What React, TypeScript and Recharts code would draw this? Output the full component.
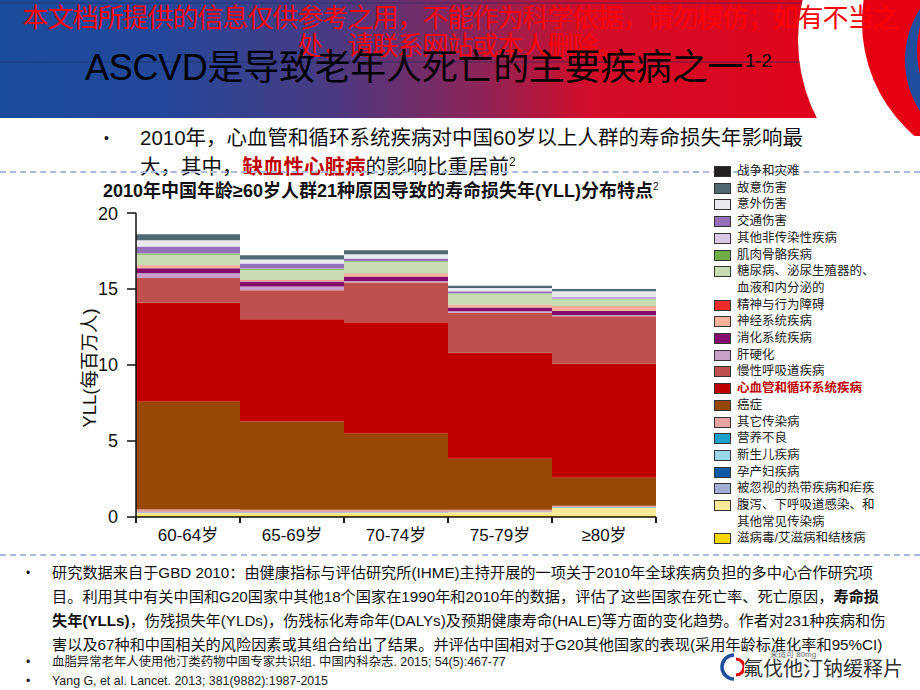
import React from 'react'
import { BarChart, Bar, XAxis, YAxis } from 'recharts'

const ageGroups = ['60-64岁', '65-69岁', '70-74岁', '75-79岁', '≥80岁']
const yTicks = [0, 5, 10, 15, 20]

// YLL per million (bottom of the stack first)
const hivTb = [0.12, 0.12, 0.12, 0.12, 0.06]
const diarrhea = [0.15, 0.15, 0.17, 0.2, 0.55]
const tropical = [0.02, 0.02, 0.02, 0.03, 0.03]
const maternal = [0, 0, 0, 0, 0]
const neonatal = [0, 0, 0, 0, 0]
const nutrition = [0.02, 0.02, 0.02, 0.02, 0.02]
const otherInfect = [0.18, 0.17, 0.15, 0.1, 0.08]
const cancer = [7.1, 5.8, 5.0, 3.36, 1.84]
const cardio = [6.53, 6.73, 7.34, 6.99, 7.52]
const chronicResp = [1.6, 1.9, 2.61, 2.61, 3.11]
const cirrhosis = [0.32, 0.26, 0.1, 0.1, 0.08]
const digestive = [0.32, 0.33, 0.3, 0.26, 0.28]
const neuro = [0.18, 0.07, 0.16, 0.15, 0.26]
const mental = [0.03, 0.03, 0.03, 0.02, 0.03]
const diabetes = [0.68, 0.66, 0.76, 0.7, 0.46]
const musculo = [0.08, 0.07, 0.05, 0.04, 0.03]
const otherNcd = [0.02, 0.02, 0.02, 0.02, 0.02]
const transport = [0.45, 0.33, 0.16, 0.13, 0.09]
const unintentional = [0.4, 0.26, 0.28, 0.22, 0.39]
const intentional = [0.4, 0.28, 0.26, 0.15, 0.15]
const war = [0, 0, 0, 0, 0]

const causes = [
  { key: 'hivTb', name: '滋病毒/艾滋病和结核病', color: '#ffd700', values: hivTb },
  { key: 'diarrhea', name: '腹泻、下呼吸道感染、和\n其他常见传染病', color: '#fbe99a', values: diarrhea },
  { key: 'tropical', name: '被忽视的热带疾病和疟疾', color: '#a3aed6', values: tropical },
  { key: 'maternal', name: '孕产妇疾病', color: '#0f5aa6', values: maternal },
  { key: 'neonatal', name: '新生儿疾病', color: '#9ad6ea', values: neonatal },
  { key: 'nutrition', name: '营养不良', color: '#1ba1c9', values: nutrition },
  { key: 'otherInfect', name: '其它传染病', color: '#e6a4a4', values: otherInfect },
  { key: 'cancer', name: '癌症', color: '#974706', values: cancer },
  { key: 'cardio', name: '心血管和循环系统疾病', color: '#c00000', values: cardio },
  { key: 'chronicResp', name: '慢性呼吸道疾病', color: '#c0504d', values: chronicResp },
  { key: 'cirrhosis', name: '肝硬化', color: '#c9a0c8', values: cirrhosis },
  { key: 'digestive', name: '消化系统疾病', color: '#850a6e', values: digestive },
  { key: 'neuro', name: '神经系统疾病', color: '#f6b39a', values: neuro },
  { key: 'mental', name: '精神与行为障碍', color: '#ee2b2b', values: mental },
  { key: 'diabetes', name: '糖尿病、泌尿生殖器的、\n血液和内分泌的', color: '#c9ddb2', values: diabetes },
  { key: 'musculo', name: '肌肉骨骼疾病', color: '#70ad47', values: musculo },
  { key: 'otherNcd', name: '其他非传染性疾病', color: '#d8c8e6', values: otherNcd },
  { key: 'transport', name: '交通伤害', color: '#9470b8', values: transport },
  { key: 'unintentional', name: '意外伤害', color: '#e8eaee', values: unintentional },
  { key: 'intentional', name: '故意伤害', color: '#4f6872', values: intentional },
  { key: 'war', name: '战争和灾难', color: '#231f20', values: war },
]

const data = ageGroups.map((age, i) => {
  const row: Record<string, string | number> = { age }
  causes.forEach((c) => (row[c.key] = c.values[i]))
  return row
})

const FONT = '"Liberation Sans", Arial, "Noto Sans CJK SC", sans-serif'
const CJK = '"Liberation Sans", "Noto Sans CJK SC", sans-serif'

const CHART_W = 600
const CHART_H = 350
const MARGIN = { top: 10, right: 14, left: 0, bottom: 0 }
const Y_W = 66
const PLOT_W = CHART_W - MARGIN.left - MARGIN.right - Y_W
const BAND = PLOT_W / ageGroups.length

function AgeTick(props: any) {
  const { x, y, payload, index } = props
  const mark = (px: number) => (
    <line x1={px} x2={px} y1={y - 8} y2={y - 2} stroke="#222" strokeWidth={2} />
  )
  return (
    <g>
      {mark(x - BAND / 2)}
      {index === ageGroups.length - 1 && mark(x + BAND / 2)}
      <text x={x} y={y + 16} textAnchor="middle" fontSize={17} fill="#111" fontFamily={CJK}>
        {payload.value}
      </text>
    </g>
  )
}

function Header() {
  return (
    <svg width={920} height={140} style={{ position: 'absolute', left: 0, top: 0 }}>
      <defs>
        <linearGradient id="hdr" x1="0" y1="0" x2="1" y2="0">
          <stop offset="0" stopColor="#1b4b9b" />
          <stop offset="0.18" stopColor="#24489a" />
          <stop offset="0.36" stopColor="#4a3a82" />
          <stop offset="0.52" stopColor="#8c2458" />
          <stop offset="0.64" stopColor="#d20d2a" />
          <stop offset="1" stopColor="#e60012" />
        </linearGradient>
        <clipPath id="hdrClip">
          <rect x={0} y={0} width={920} height={136} />
        </clipPath>
      </defs>
      <rect x={0} y={0} width={920} height={118} fill="url(#hdr)" />
      <line x1={0} x2={873} y1={3} y2={3} stroke="#1a2a60" strokeWidth={1} opacity={0.6} />
      <line x1={0} x2={873} y1={62} y2={62} stroke="#1a2a60" strokeWidth={1} opacity={0.6} />
      <g clipPath="url(#hdrClip)">
        <circle cx={970} cy={40} r={172} fill="#ffffff" />
        <circle cx={1012} cy={22} r={150} fill="#e60012" />
        <circle cx={1000} cy={60} r={95} fill="#1f4e9c" />
        <circle cx={1012} cy={50} r={95} fill="#e60012" />
      </g>
    </svg>
  )
}

function Legend() {
  const rows = [...causes].reverse()
  return (
    <div style={{ position: 'absolute', left: 714, top: 163, fontFamily: CJK, fontSize: 12.5, lineHeight: '16.7px' }}>
      {rows.map((c) => (
        <div key={c.key} style={{ display: 'flex', alignItems: 'flex-start' }}>
          <span
            style={{
              width: 15,
              height: 9,
              marginTop: 3,
              marginRight: 6,
              background: c.color,
              border: '1px solid #333',
              flexShrink: 0,
            }}
          />
          <span
            style={{
              whiteSpace: 'pre',
              color: c.key === 'cardio' ? '#c00000' : '#222',
              fontWeight: c.key === 'cardio' ? 700 : 400,
            }}
          >
            {c.name}
          </span>
        </div>
      ))}
    </div>
  )
}

const dashed: React.CSSProperties = {
  position: 'absolute',
  left: 0,
  width: 920,
  height: 0,
  borderTop: '2px dashed #a9bcdf',
}

export default function App() {
  return (
    <div
      style={{
        position: 'absolute',
        left: 0,
        top: 0,
        width: 920,
        height: 690,
        overflow: 'hidden',
        background: '#fff',
        fontFamily: CJK,
      }}
    >
      <Header />
      <div
        style={{
          position: 'absolute',
          left: 0,
          top: 4,
          width: 920,
          textAlign: 'center',
          color: '#ff0000',
          fontSize: 26,
          lineHeight: '28px',
          whiteSpace: 'nowrap',
          letterSpacing: -1,
        }}
      >
        本文档所提供的信息仅供参考之用，不能作为科学依据，请勿模仿；如有不当之
        <br />
        处，请联系网站或本人删除。
      </div>
      <div
        style={{
          position: 'absolute',
          left: 85,
          top: 41,
          fontSize: 36,
          lineHeight: '40px',
          color: '#000',
          whiteSpace: 'nowrap',
          letterSpacing: -0.3,
        }}
      >
        ASCVD是导致老年人死亡的主要疾病之一
        <sup style={{ fontSize: 19, marginLeft: 2 }}>1-2</sup>
      </div>

      <div style={{ position: 'absolute', left: 104, top: 126, fontSize: 20.5, color: '#111', lineHeight: '24px' }}>
        <span style={{ position: 'absolute', left: 0, top: 0, fontSize: 14 }}>•</span>
        <div style={{ marginLeft: 36, whiteSpace: 'nowrap' }}>
          2010年，心血管和循环系统疾病对中国60岁以上人群的寿命损失年影响最
          <br />
          大，其中，<b style={{ color: '#c00000' }}>缺血性心脏病</b>的影响比重居前
          <sup style={{ fontSize: 12 }}>2</sup>
        </div>
      </div>

      <div style={{ ...dashed, top: 171 }} />
      <div style={{ ...dashed, top: 554 }} />

      <div
        style={{
          position: 'absolute',
          left: 103,
          top: 177,
          fontSize: 18,
          lineHeight: '20px',
          fontWeight: 700,
          color: '#111',
          whiteSpace: 'nowrap',
        }}
      >
        2010年中国年龄≥60岁人群21种原因导致的寿命损失年(YLL)分布特点
        <sup style={{ fontSize: 10, fontWeight: 400 }}>2</sup>
      </div>

      <div
        style={{
          position: 'absolute',
          left: 88,
          top: 368,
          transform: 'translate(-50%, -50%) rotate(-90deg)',
          fontSize: 18.5,
          color: '#111',
          whiteSpace: 'nowrap',
        }}
      >
        YLL(每百万人)
      </div>

      <div style={{ position: 'absolute', left: 70, top: 203 }}>
        <BarChart width={CHART_W} height={CHART_H} data={data} margin={MARGIN} barCategoryGap={0}>
          <XAxis
            dataKey="age"
            height={36}
            tickLine={false}
            axisLine={{ stroke: '#111', strokeWidth: 1.5 }}
            tick={<AgeTick />}
            interval={0}
          />
          <YAxis
            width={Y_W}
            domain={[0, 20]}
            ticks={yTicks}
            allowDataOverflow
            tickSize={9}
            tickMargin={9}
            axisLine={{ stroke: '#111', strokeWidth: 1.5 }}
            tickLine={{ stroke: '#111', strokeWidth: 1.5 }}
            tick={{ fontSize: 18, fill: '#111', fontFamily: FONT }}
          />
          {causes.map((c) => (
            <Bar key={c.key} dataKey={c.key} stackId="yll" fill={c.color} isAnimationActive={false} />
          ))}
        </BarChart>
      </div>

      <Legend />

      <div style={{ position: 'absolute', left: 26, top: 561, fontSize: 15.2, color: '#111', lineHeight: '24px' }}>
        <span style={{ position: 'absolute', left: 0, top: 0, fontSize: 12 }}>•</span>
        <div style={{ marginLeft: 26, whiteSpace: 'nowrap' }}>
          研究数据来自于GBD 2010：由健康指标与评估研究所(IHME)主持开展的一项关于2010年全球疾病负担的多中心合作研究项
          <br />
          目。利用其中有关中国和G20国家中其他18个国家在1990年和2010年的数据，评估了这些国家在死亡率、死亡原因，<b>寿命损</b>
          <br />
          <b>失年(YLLs)</b>，伤残损失年(YLDs)，伤残标化寿命年(DALYs)及预期健康寿命(HALE)等方面的变化趋势。作者对231种疾病和伤
          <br />
          害以及67种和中国相关的风险因素或其组合给出了结果。并评估中国相对于G20其他国家的表现(采用年龄标准化率和95%CI)
        </div>
      </div>

      <div style={{ position: 'absolute', left: 26, top: 653, fontSize: 12.4, color: '#222', lineHeight: '19px' }}>
        <div>
          <span style={{ display: 'inline-block', width: 26 }}>•</span>血脂异常老年人使用他汀类药物中国专家共识组. 中国内科杂志. 2015; 54(5):467-77
        </div>
        <div>
          <span style={{ display: 'inline-block', width: 26 }}>•</span>Yang G, et al. Lancet. 2013; 381(9882):1987-2015
        </div>
      </div>

      <svg width={24} height={30} style={{ position: 'absolute', left: 720, top: 652 }}>
        <path d="M14 3 A11 11 0 0 0 14 27" fill="none" stroke="#1f4e9c" strokeWidth={3.5} />
        <path d="M16 7 A8 8 0 0 1 16 23" fill="none" stroke="#e60012" strokeWidth={3} />
      </svg>
      <div style={{ position: 'absolute', left: 770, top: 651, fontSize: 8, lineHeight: '8px', color: '#666' }}>
        来适可 80mg
      </div>
      <div
        style={{
          position: 'absolute',
          left: 743,
          top: 659,
          fontSize: 20,
          lineHeight: '20px',
          color: '#333',
          whiteSpace: 'nowrap',
        }}
      >
        氟伐他汀钠缓释片
      </div>
    </div>
  )
}
